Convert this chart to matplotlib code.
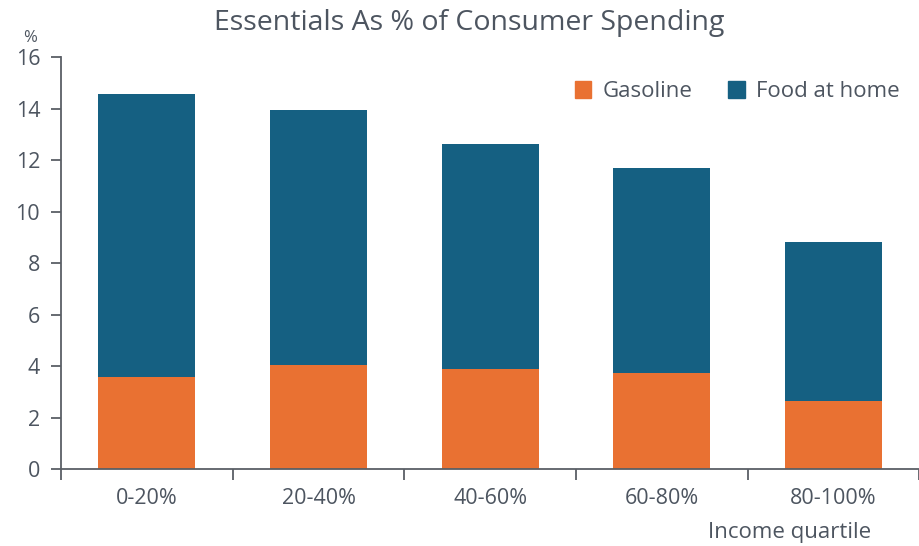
import numpy as np
import matplotlib.pyplot as plt
from matplotlib.patches import Patch

plt.rcParams['font.family'] = ['Open Sans', 'DejaVu Sans']

categories = ['0-20%', '20-40%', '40-60%', '60-80%', '80-100%']
gasoline = [3.57, 4.04, 3.88, 3.73, 2.64]
food_at_home = [10.99, 9.90, 8.74, 7.96, 6.18]

text_color = '#4d5560'
axis_color = '#5a5f66'
orange = '#E97132'
blue = '#156082'

fig = plt.figure(figsize=(9.2, 5.46), dpi=100)
ax = fig.add_axes([0.0663, 0.141, 0.933, 0.7546])

x = np.arange(len(categories))
ax.bar(x, gasoline, width=0.565, color=orange, label='Gasoline')
ax.bar(x, food_at_home, width=0.565, bottom=gasoline, color=blue, label='Food at home')

ax.set_xlim(-0.5, len(categories) - 0.5)
ax.set_ylim(0, 16)
ax.set_yticks(range(0, 17, 2))
ax.set_xticks(x)
ax.set_xticklabels(categories)
ax.set_xticks(np.arange(-0.5, len(categories), 1.0), minor=True)

for s in ['top', 'right']:
    ax.spines[s].set_visible(False)
for s in ['left', 'bottom']:
    ax.spines[s].set_color(axis_color)
    ax.spines[s].set_linewidth(1.3)

ax.tick_params(axis='y', direction='out', length=7, width=1.3, color=axis_color,
               labelcolor=text_color, labelsize=15.5, pad=8)
ax.tick_params(axis='x', which='major', length=0, labelcolor=text_color,
               labelsize=15.5, pad=14)
ax.tick_params(axis='x', which='minor', direction='out', length=8, width=1.3,
               color=axis_color)

fig.text(0.51, 0.958, 'Essentials As % of Consumer Spending', ha='center', va='center',
         fontsize=20.5, color=text_color)
fig.text(0.033, 0.93, '%', ha='center', va='center', fontsize=12, color=text_color)
fig.text(0.858, 0.024, 'Income quartile', ha='center', va='center', fontsize=16,
         color=text_color)

handles = [Patch(color=orange, label='Gasoline'), Patch(color=blue, label='Food at home')]
leg = ax.legend(handles=handles, loc='upper right', bbox_to_anchor=(1.0, 0.99), ncol=2,
                frameon=False, fontsize=16, handlelength=0.75, handleheight=0.75,
                handletextpad=0.5, columnspacing=1.6, labelcolor=text_color)

fig.savefig('out.png', dpi=100)
